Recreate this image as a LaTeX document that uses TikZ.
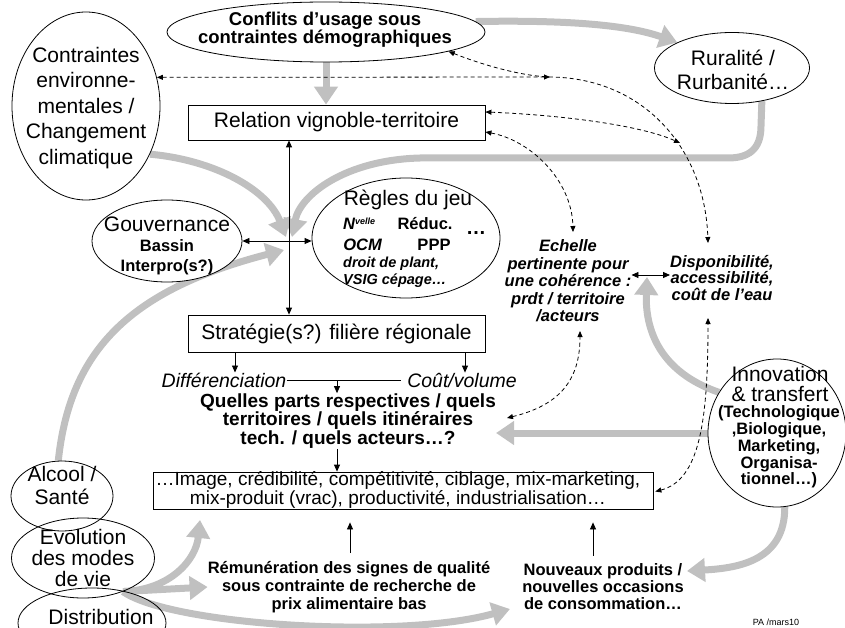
\documentclass[tikz,border=0pt]{standalone}
\usepackage{fontspec}
\setmainfont{Liberation Sans}
\usetikzlibrary{arrows.meta,shapes.geometric}
\definecolor{ga}{RGB}{192,192,192}
\pgfdeclarelayer{bg}
\pgfsetlayers{bg,main}
\begin{document}
\begin{tikzpicture}[x=1pt,y=-1pt,
  ell/.style={draw,ellipse,inner sep=0pt,line width=0.8pt},
  bx/.style={draw,rectangle,inner sep=0pt,line width=0.8pt},
  t21/.style={inner sep=0pt,align=center,font=\fontsize{21}{24}\selectfont},
  tb/.style={inner sep=0pt,align=center,font=\bfseries\fontsize{16.5}{17}\selectfont},
  tbi/.style={inner sep=0pt,align=center,font=\bfseries\itshape\fontsize{16.5}{17.5}\selectfont},
  garr/.style={draw=ga,line width=7pt,-{Triangle[length=18pt,width=23pt]}},
  barr/.style={line width=0.8pt,-{Triangle[length=7pt,width=6pt]}},
  barrb/.style={line width=0.8pt,{Triangle[length=7pt,width=6pt]}-{Triangle[length=7pt,width=6pt]}},
  darr/.style={line width=0.8pt,dash pattern=on 4pt off 3pt,{Triangle[length=6pt,width=5pt]}-{Triangle[length=6pt,width=5pt]}}
]
\useasboundingbox (0,0) rectangle (845,628);

% ---------- ellipses ----------
\node[ell,fill=white,minimum width=318pt,minimum height=60pt] (conf) at (326,32) {};
\node[inner sep=0pt,align=center,font=\bfseries\fontsize{18.5}{18}\selectfont] (conft) at (325,30) {Conflits d’usage sous\\contraintes démographiques};

\node[ell,fill=white,minimum width=155pt,minimum height=71pt] (rur) at (732,68) {};
\node[t21] (rurt) at (733,70) {Ruralité /\\Rurbanité…};

\node[ell,fill=white,minimum width=148pt,minimum height=188pt] (cont) at (86,106) {};
\node[inner sep=0pt,align=center,font=\fontsize{21}{25.5}\selectfont] (contt) at (86,108) {Contraintes\\environne-\\mentales /\\Changement\\climatique};

\node[ell,fill=white,minimum width=150pt,minimum height=82pt] (gouv) at (167,241) {};
\node[t21] (gouvt) at (167,224) {Gouvernance};
\node[inner sep=0pt,align=center,font=\bfseries\fontsize{16.5}{20}\selectfont] (gouvb) at (167,257) {Bassin\\Interpro(s?)};

\node[ell,fill=white,minimum width=188pt,minimum height=120pt] (reg) at (406,238) {};
\node[t21] (regt) at (408,200) {Règles du jeu};
\node[inner sep=0pt,anchor=west,font=\bfseries\itshape\fontsize{16.5}{17}\selectfont] (regn) at (343,224) {N\raisebox{5pt}{\fontsize{9}{9}\selectfont velle}};
\node[tb] (regr) at (425,224) {Réduc.};
\node[inner sep=0pt,font=\bfseries\fontsize{20}{20}\selectfont] (regdots) at (476,233) {…};
\node[tbi] (rego) at (362.5,245) {OCM};
\node[tb] (regp) at (434,245) {PPP};
\node[inner sep=0pt,anchor=west,font=\bfseries\itshape\fontsize{14.5}{15}\selectfont] (regd) at (343,264) {droit de plant,};
\node[inner sep=0pt,anchor=west,font=\bfseries\itshape\fontsize{14.5}{15}\selectfont] (regv) at (343,281) {VSIG cépage…};

\node[ell,fill=white,minimum width=138pt,minimum height=148pt] (inno) at (777,433) {};
\node[inner sep=0pt,align=center,font=\fontsize{21}{20}\selectfont] (innot) at (780,384) {Innovation\\\& transfert};
\node[inner sep=0pt,align=center,font=\bfseries\fontsize{16.5}{16.8}\selectfont] (innob) at (779,447) {(Technologique\\,Biologique,\\Marketing,\\Organisa-\\tionnel…)};

\node[ell,minimum width=102pt,minimum height=70pt] (alc) at (62,496) {};
\node[inner sep=0pt,align=center,font=\fontsize{21}{23}\selectfont] (alct) at (62,485) {Alcool /\\Santé};
\node[ell,minimum width=143pt,minimum height=80pt] (evo) at (83,558) {};
\node[inner sep=0pt,align=center,font=\fontsize{21}{21}\selectfont] (evot) at (83,558) {Evolution\\des modes\\de vie};
\node[ell,minimum width=148pt,minimum height=70pt] (dist) at (92,623) {};
\node[t21] (distt) at (101,617) {Distribution};

% ---------- boxes ----------
\node[bx,t21,draw,minimum width=297pt,minimum height=35pt] (rel) at (336.5,122.5) {Relation vignoble-territoire};
\node[bx,t21,draw,minimum width=297pt,minimum height=37pt] (strat) at (336.5,333.5) {Stratégie(s?) filière régionale};
\node[bx,minimum width=500pt,minimum height=37pt] (img) at (403,490.5) {};
\node[inner sep=0pt,align=center,font=\fontsize{19}{17}\selectfont] (imgt) at (398,490) {…Image, crédibilité, compétitivité, ciblage, mix-marketing,\\mix-produit (vrac), productivité, industrialisation…};

% ---------- free texts ----------
\node[inner sep=0pt,font=\itshape\fontsize{19.5}{20}\selectfont] (diff) at (224,380) {Différenciation};
\node[inner sep=0pt,font=\itshape\fontsize{19.5}{20}\selectfont] (cout) at (462,380) {Coût/volume};
\node[inner sep=0pt,align=center,font=\bfseries\fontsize{19}{16}\selectfont] (quel) at (348,421) {Quelles parts respectives / quels\\territoires / quels itinéraires\\tech. / quels acteurs…?};
\node[inner sep=0pt,align=center,font=\bfseries\fontsize{16.5}{18}\selectfont] (rem) at (349,587) {Rémunération des signes de qualité\\sous contrainte de recherche de\\prix alimentaire bas};
\node[tb] (nouv) at (603,587) {Nouveaux produits /\\nouvelles occasions\\de consommation…};
\node[tbi] (ech) at (568,281) {Echelle\\pertinente pour\\une cohérence :\\prdt / territoire\\/acteurs};
\node[inner sep=0pt,align=center,font=\bfseries\itshape\fontsize{16.5}{16.5}\selectfont] (dispo) at (722,278) {Disponibilité,\\accessibilité,\\coût de l’eau};
\node[inner sep=0pt,font=\fontsize{9}{9}\selectfont] (pa) at (776,622) {PA /mars10};

% ---------- helper coordinates ----------
\coordinate (cross) at (289,241);
\coordinate (xd) at (235,0);
\coordinate (xc) at (465,0);
\coordinate (xm) at (337,0);
\coordinate (xr) at (350,0);
\coordinate (xn) at (593,0);
\coordinate (ye) at (0,275);
\coordinate (y112) at (0,112);
\coordinate (y132) at (0,132);
\coordinate (y492) at (0,492);
\coordinate (j1) at (550,77);
\coordinate (j2) at (680,143);
\coordinate (dA) at (708,243);
\coordinate (dB) at (708,318);
\coordinate (eA) at (573,232);
\coordinate (eB) at (580,331);
\coordinate (qE) at (507,418);
\coordinate (tipC) at (286,237);
\coordinate (tipB) at (292,237);
\coordinate (tipD) at (284,250);
\coordinate (tipE) at (647,277);
\coordinate (tipG) at (687,571);
\coordinate (tipH) at (200,520);
\coordinate (tipJ) at (510,609);

% ---------- grey arrows ----------
\begin{pgfonlayer}{bg}
\draw[garr] (conf.4) .. controls (560,20) and (625,24) .. (rur.155);
\draw[garr] (conf.south) -- (rel.north -| conf.south);
\draw[garr] (rur.-48) -- (761,126) .. controls (761,150) and (748,158) .. (728,158) -- (420,158) .. controls (345,160) and (300,195) .. (tipB);
\draw[garr] (cont.-37) .. controls (215,160) and (268,190) .. (tipC);
\draw[garr] (alc.96) .. controls (70,350) and (130,290) .. (tipD);
\draw[garr] (inno.145) .. controls (660,372) and (645,330) .. (tipE);
\draw[garr] (inno.west) -- (quel.east |- inno.west);
\draw[garr] (inno.-84) .. controls (785,560) and (740,568) .. (tipG);
\draw[garr] (evo.-40) .. controls (170,590) and (196,560) .. (tipH);
\draw[garr] (evo.-40) -- (rem.west);
\draw[garr] (evo.-40) .. controls (170,625) and (400,640) .. (tipJ);
\end{pgfonlayer}

% ---------- black arrows ----------
\draw[barrb] (rel.south -| cross) -- (strat.north -| cross);
\draw[barrb] (gouv.east) -- (reg.west |- gouv.east);
\draw[barr] (strat.south -| xd) -- (diff.north -| xd);
\draw[barr] (strat.south -| xc) -- (cout.north -| xc);
\draw[line width=0.8pt] (diff.east) -- ([xshift=-6pt]cout.west);
\draw[barr] (diff.east -| xm) -- (quel.north -| xm);
\draw[barr] (quel.south -| xm) -- (img.north -| xm);
\draw[barr,shorten <=8pt,shorten >=13pt] (rem.north -| xr) -- (img.south -| xr);
\draw[barr,shorten <=8pt,shorten >=13pt] (nouv.north -| xn) -- (img.south -| xn);
\draw[barrb] (ech.east |- ye) -- (dispo.west |- ye);

% ---------- dashed arrows ----------
\draw[darr] (conf.-9) .. controls (480,64) and (520,76) .. (j1) .. controls (645,78) and (705,150) .. (dA);
\draw[darr] (cont.22) -- (j1);
\draw[darr] (rel.east |- y112) .. controls (560,115) and (640,125) .. (j2);
\draw[darr] (rel.east |- y132) .. controls (530,140) and (572,180) .. (eA);
\draw[darr] (qE) .. controls (560,405) and (580,380) .. (eB);
\draw[darr,shorten <=2pt] (img.east |- y492) .. controls (700,480) and (708,420) .. (dB);
\end{tikzpicture}
\end{document}
